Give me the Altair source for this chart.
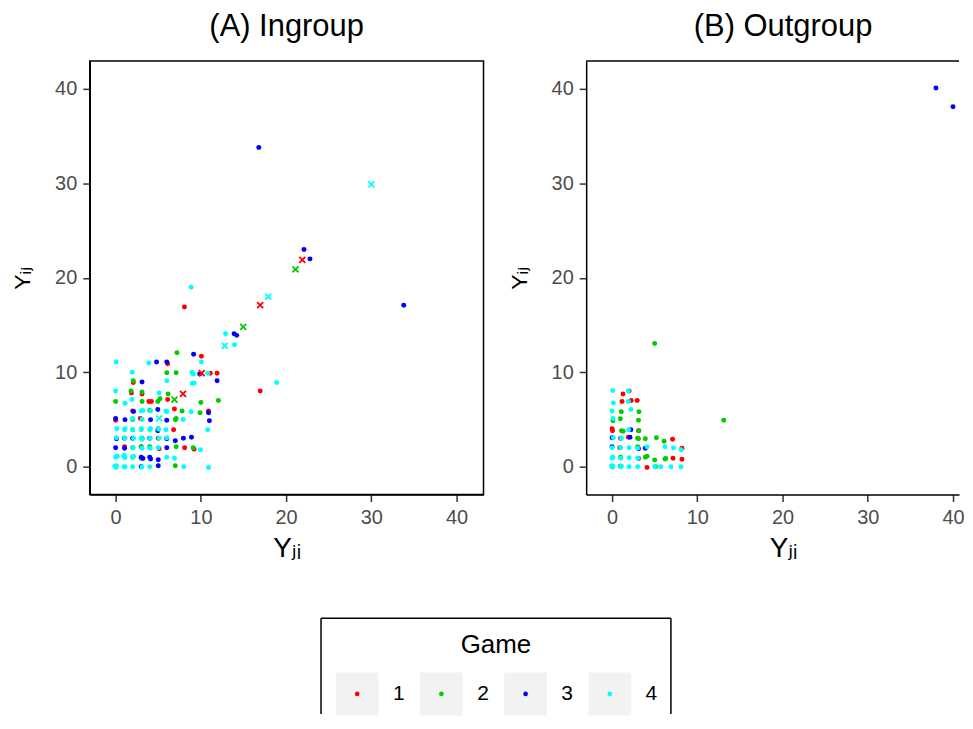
import altair as alt
import pandas as pd

FONT = "Liberation Sans, Arial, DejaVu Sans, sans-serif"
games = ["1", "2", "3", "4"]
colors = ["#FF0000", "#00CD00", "#0000FF", "#00FFFF"]
ticks = [0, 10, 20, 30, 40]

# ---------- Panel A (Ingroup) ----------
a1_x = [8.07, 10.06, 6.1, 11.1, 11.9, 2.07, 1.85, 3.1, 16.96, 3.9, 4.2, 6.1, 6.9, 2.0, 10.9, 0.0, 2.9, 6.8, 1.05, 5.0, 1.05, 3.0, 5.1, 8.1, 9.2]
a1_y = [16.9, 11.7, 10.9, 9.9, 9.9, 8.9, 7.8, 7.7, 8.0, 6.9, 6.9, 7.1, 6.1, 5.9, 5.9, 4.9, 5.1, 3.9, 3.0, 3.0, 2.1, 2.1, 1.9, 2.0, 1.85]
a1x_x = [21.9, 16.96, 7.9, 10.1]
a1x_y = [21.9, 17.1, 7.7, 9.9]

a2_x = [7.2, 6.0, 7.1, 2.07, 1.8, 3.1, 6.15, 0.0, 3.1, 4.95, 5.2, 10.0, 12.05, 4.0, 7.8, 9.9, 2.0, 7.0, 7.1, 2.0, 5.0, 1.05, 2.0, 3.0, 4.0, 7.1, 9.1, 7.0, 2.0, 3.0, 1.0, 3.1]
a2_y = [12.06, 9.95, 9.95, 9.1, 8.0, 7.9, 7.7, 6.9, 6.9, 6.9, 7.2, 6.8, 7.0, 5.95, 5.9, 5.7, 5.0, 4.96, 5.1, 3.9, 4.0, 3.0, 2.0, 2.1, 2.1, 2.1, 2.0, 0.1, 1.0, 0.9, 1.1, 3.0]
a2x_x = [21.1, 14.97, 6.9]
a2x_y = [20.9, 14.8, 7.1]

a3_x = [16.8, 22.1, 22.8, 33.8, 13.9, 14.2, 9.15, 4.8, 6.0, 9.86, 11.9, 3.1, 2.1, 4.95, 10.9, 0.0, 1.1, 4.1, 6.0, 11.0, 4.95, 0.1, 2.0, 4.0, 6.0, 7.0, 7.95, 8.9, 0.0, 1.05, 6.0, 3.0, 3.2, 4.0, 4.1, 5.0, 3.0, 5.0]
a3_y = [33.8, 23.0, 22.0, 17.1, 14.07, 13.9, 11.9, 11.08, 11.08, 9.8, 9.1, 8.97, 5.85, 6.05, 5.7, 5.1, 4.96, 4.96, 4.9, 4.85, 3.8, 2.95, 3.0, 3.0, 2.95, 2.75, 3.0, 3.1, 2.0, 1.95, 2.0, 1.0, 0.85, 1.0, 0.8, 0.74, 0.0, 0.1]

a4_x = [8.85, 12.9, 13.95, 0.07, 3.9, 10.06, 1.95, 8.96, 9.1, 10.8, 6.0, 9.0, 9.2, 18.9, 0.0, 5.1, 1.1, 1.9, 3.0, 3.2, 4.1, 5.9, 6.0, 8.85, 3.1, 2.0, 7.9, 0.15, 1.05, 1.1, 2.0, 3.0, 3.0, 4.0, 4.1, 5.05, 5.9, 10.8, 0.1, 1.1, 2.1, 3.0, 3.1, 4.05, 5.1, 6.0, 2.05, 3.1, 4.05, 5.0, 9.95, 0.0, 0.2, 1.0, 1.1, 2.0, 2.1, 6.0, 6.9, 0.0, 0.1, -0.1, 0.05, 1.0, 1.1, 2.0, 3.1, 4.0, 8.0, 10.9]
a4_y = [19.0, 14.07, 12.9, 11.08, 10.98, 11.08, 10.0, 10.0, 9.8, 9.9, 9.1, 8.8, 8.85, 8.9, 8.0, 7.8, 6.7, 7.1, 5.9, 5.95, 5.9, 5.9, 5.8, 5.8, 5.0, 5.1, 5.0, 4.0, 3.9, 4.0, 3.9, 3.9, 4.0, 3.9, 4.0, 3.95, 3.9, 3.9, 3.05, 3.0, 3.0, 3.0, 2.9, 3.0, 3.0, 3.05, 2.0, 1.95, 1.95, 2.0, 1.8, 1.0, 1.1, 1.2, 0.95, 1.0, 1.1, 1.0, 0.9, 0.0, 0.1, 0.05, -0.1, 0.0, -0.05, 0.0, -0.05, 0.0, 0.0, -0.1]
a4x_x = [30.0, 17.9, 12.8, 5.1]
a4x_y = [29.9, 18.0, 12.8, 5.1]

# ---------- Panel B (Outgroup) ----------
b1_x = [1.28, 2.0, 1.17, 2.25, 2.95, 0.0, 0.05, 3.1, 1.0, 1.9, 7.1, 8.2, 3.1, 7.15, 8.2, 4.1, 0.9]
b1_y = [7.7, 8.0, 6.9, 7.0, 7.0, 4.0, 3.8, 3.8, 3.0, 3.1, 2.9, 1.95, 0.85, 0.9, 0.77, -0.1, 2.0]

b2_x = [5.0, 13.1, 1.08, 3.15, 0.1, 0.97, 3.1, 1.1, 1.3, 3.15, 3.0, 3.1, 3.9, 5.2, 6.1, 3.0, 3.9, 4.1, 5.0, 6.2, 6.3, 5.1, 1.0]
b2_y = [13.05, 4.9, 5.8, 5.8, 4.85, 5.07, 4.9, 3.8, 3.75, 3.8, 3.0, 2.95, 2.95, 3.05, 2.7, 2.1, 1.0, 1.1, 0.7, 0.8, 0.85, 0.0, 1.0]

b3_x = [38.0, 40.0, 2.2, 0.0, 2.1, 0.0, 3.1, 3.9, 0.05, 1.0]
b3_y = [40.1, 38.1, 3.9, 3.05, 3.1, 2.1, 1.9, 1.95, 0.0, 0.05]

b4_x = [0.08, 1.9, 0.15, 1.9, 0.0, 2.2, 0.1, 1.95, 0.15, 1.1, 0.0, 1.0, 2.0, 3.0, 4.1, 6.2, 7.2, 8.1, 0.0, 0.1, 1.0, 2.0, 3.0, 0.0, 0.1, -0.05, 1.0, 1.1, 2.0, 3.0, 5.0, 5.7, 6.9, 8.1]
b4_y = [8.05, 8.0, 6.75, 6.9, 5.9, 6.05, 5.1, 3.9, 3.05, 3.0, 2.0, 2.0, 2.0, 1.95, 2.1, 2.1, 1.97, 1.8, 0.9, 1.0, 0.9, 0.95, 0.9, 0.0, 0.05, 0.1, 0.0, 0.05, 0.0, 0.0, 0.0, 0.0, 0.0, 0.0]

rows = []
def add(panel, game, shape, xs, ys):
    for x, y in zip(xs, ys):
        rows.append({"panel": panel, "game": game, "shape": shape, "yji": x, "yij": y})

add("A", "1", "o", a1_x, a1_y); add("A", "1", "x", a1x_x, a1x_y)
add("A", "2", "o", a2_x, a2_y); add("A", "2", "x", a2x_x, a2x_y)
add("A", "3", "o", a3_x, a3_y)
add("A", "4", "o", a4_x, a4_y); add("A", "4", "x", a4x_x, a4x_y)
add("B", "1", "o", b1_x, b1_y)
add("B", "2", "o", b2_x, b2_y)
add("B", "3", "o", b3_x, b3_y)
add("B", "4", "o", b4_x, b4_y)
df = pd.DataFrame(rows)

color_scale = alt.Scale(domain=games, range=colors)
PX_PER_UNIT = 8.55
X_MIN = -3.04

def axis(title, tsize, tpad):
    return alt.Axis(values=ticks, grid=False, title=title, tickSize=7, tickColor="#333333", tickWidth=1.5,
                    domainColor="black", domainWidth=1.5, labelFont=FONT, labelFontSize=20,
                    labelColor="#4D4D4D", labelPadding=6, titleFont=FONT, titleFontSize=tsize,
                    titleFontWeight="normal", titleColor="black", titlePadding=tpad)

def points(p, width, xtitle_dx=0):
    base = alt.Chart(df).transform_filter(alt.datum.panel == p)
    x_max = X_MIN + width / PX_PER_UNIT
    xaxis = axis("Yⱼᵢ", 28, 7)
    if xtitle_dx:
        xaxis = alt.Axis(values=ticks, grid=False, title="Yⱼᵢ", tickSize=7, tickColor="#333333", tickWidth=1.5,
                         domainColor="black", domainWidth=1.5, labelFont=FONT, labelFontSize=20,
                         labelColor="#4D4D4D", labelPadding=6, titleFont=FONT, titleFontSize=28,
                         titleFontWeight="normal", titleColor="black", titlePadding=7, titleX=xtitle_dx)
    enc = dict(
        x=alt.X("yji:Q", scale=alt.Scale(domain=[X_MIN, x_max], nice=False, zero=False), axis=xaxis),
        y=alt.Y("yij:Q", scale=alt.Scale(domain=[-2.96, 42.96], nice=False, zero=False), axis=axis("Yᵢⱼ", 23, 20)),
        color=alt.Color("game:N", scale=color_scale, legend=None),
    )
    dots = base.transform_filter(alt.datum.shape == "o").mark_circle(size=25, opacity=1).encode(**enc)
    crosses = base.transform_filter(alt.datum.shape == "x").mark_point(
        shape="M-1,-1L1,1M-1,1L1,-1", size=36, filled=False, strokeWidth=1.8, opacity=1).encode(**enc)
    return alt.layer(dots, crosses)

def ttl(text, dx=0):
    return alt.TitleParams(text, font=FONT, fontSize=31, fontWeight="normal", anchor="middle",
                           color="black", offset=17.6, dx=dx)

# ---------- legend (drawn below the panels, anchored to panel A) ----------
leg_df = pd.DataFrame({"game": games, "label": games})
one = pd.DataFrame({"t": ["Game"]})
kx = alt.X("game:N", scale=alt.Scale(type="point", domain=games, range=[268.3, 521.7], padding=0), axis=None)
frame_style = dict(color="black", strokeWidth=1.5)
top_line = alt.Chart(one).mark_rule(**frame_style).encode(
    x=alt.value(232), x2=alt.value(583), y=alt.value(559))
left_line = alt.Chart(one).mark_rule(**frame_style).encode(
    x=alt.value(232), y=alt.value(559), y2=alt.value(655))
right_line = alt.Chart(one).mark_rule(**frame_style).encode(
    x=alt.value(583), y=alt.value(559), y2=alt.value(655))
ktitle = alt.Chart(one).mark_text(font=FONT, fontSize=26, color="black", align="center",
                                  baseline="middle").encode(x=alt.value(407.5), y=alt.value(586), text="t:N")
keys = alt.Chart(leg_df).mark_square(size=1849, color="#F2F2F2", opacity=1).encode(x=kx, y=alt.value(635))
kdots = alt.Chart(leg_df).mark_circle(size=22, opacity=1).encode(
    x=kx, y=alt.value(635), color=alt.Color("game:N", scale=color_scale, legend=None))
klabels = alt.Chart(leg_df).mark_text(font=FONT, fontSize=21, color="black", align="center",
                                      baseline="middle", xOffset=41.7).encode(x=kx, y=alt.value(635), text="label:N")
legend = alt.layer(top_line, left_line, right_line, ktitle, keys, kdots, klabels)

panelA = alt.layer(points("A", 395), legend).resolve_scale(x="independent").properties(
    width=395, height=435, title=ttl("(A) Ingroup"))

# panel B runs off the right edge of the page: its frame's top edge is drawn as a rule
FULL_W = 395
B_W = 374
b_top = alt.Chart(one).mark_rule(**frame_style).encode(x=alt.value(0), x2=alt.value(B_W), y=alt.value(0))
panelB = alt.layer(points("B", B_W, xtitle_dx=FULL_W / 2), b_top).properties(
    width=B_W, height=435, title=ttl("(B) Outgroup", dx=(FULL_W - B_W) / 2),
    view=alt.ViewBackground(stroke="transparent"))

chart = alt.hconcat(panelA, panelB, spacing=103, bounds="flush").properties(
    padding={"left": 3, "top": 0, "right": 0, "bottom": 0}
).configure_view(stroke="black", strokeWidth=1.5)

chart.save("out.html", embed_options={"renderer": "svg", "actions": False})
